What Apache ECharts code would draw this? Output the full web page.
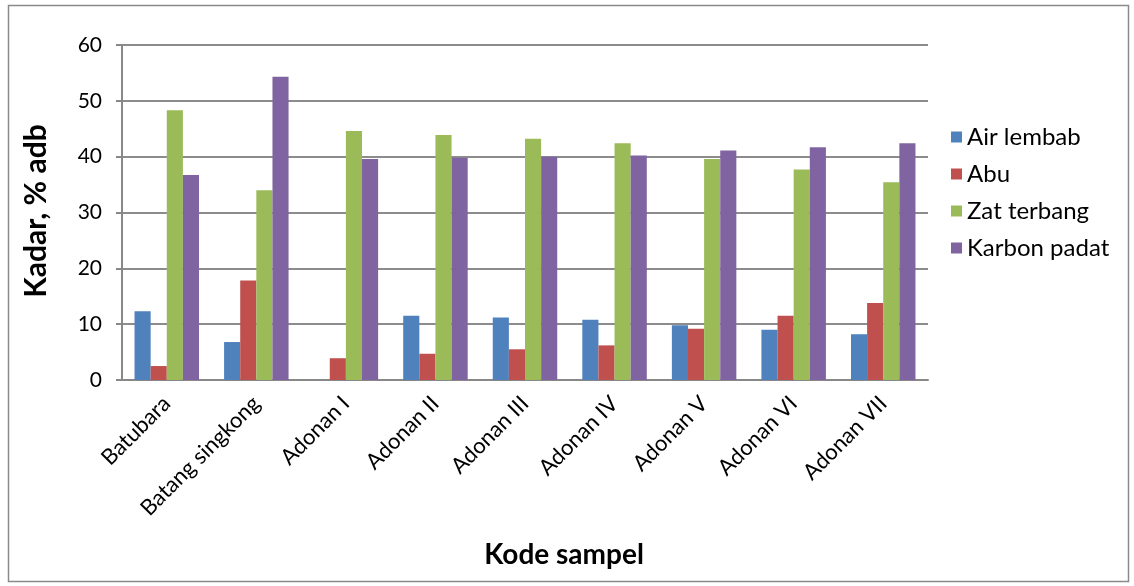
<!DOCTYPE html>
<html>
<head>
<meta charset="utf-8">
<script src="https://cdn.jsdelivr.net/npm/echarts@6/dist/echarts.min.js"></script>
<style>
  html, body { margin: 0; padding: 0; background: #fff; }
  #chart { width: 1134px; height: 586px; }
</style>
</head>
<body>
<div id="chart"></div>
<script>
// Sample codes on the x axis
const categories = ['Batubara', 'Batang singkong', 'Adonan I', 'Adonan II', 'Adonan III',
  'Adonan IV', 'Adonan V', 'Adonan VI', 'Adonan VII'];
// Proximate analysis, % adb
const airLembab   = [12.3, 6.8, 0, 11.5, 11.2, 10.8, 9.8, 9.0, 8.2];
const abu         = [2.5, 17.8, 3.9, 4.7, 5.5, 6.2, 9.2, 11.5, 13.8];
const zatTerbang  = [48.3, 34.0, 44.6, 43.9, 43.2, 42.4, 39.6, 37.7, 35.4];
const karbonPadat = [36.7, 54.3, 39.6, 39.8, 40.0, 40.2, 41.1, 41.7, 42.4];
const seriesNames = ['Air lembab', 'Abu', 'Zat terbang', 'Karbon padat'];
const colors = ['#4F81BD', '#C0504D', '#9BBB59', '#8064A2'];

const font = 'Lato, "Open Sans", sans-serif';
const chart = echarts.init(document.getElementById('chart'));

const seriesData = [airLembab, abu, zatTerbang, karbonPadat];

chart.setOption({
  animation: false,
  color: colors,
  grid: { left: 122, right: 206, top: 45, bottom: 206 },
  legend: {
    orient: 'vertical',
    left: 946,
    top: 120,
    itemWidth: 11,
    itemHeight: 11,
    itemGap: 13,
    icon: 'rect',
    textStyle: { fontFamily: font, fontSize: 24, color: '#000' },
    data: seriesNames
  },
  xAxis: {
    type: 'category',
    data: categories,
    axisTick: { show: false },
    axisLine: { lineStyle: { color: '#888', width: 2 } },
    axisLabel: {
      rotate: 45,
      interval: 0,
      margin: 20,
      fontFamily: font,
      fontSize: 22,
      color: '#000'
    }
  },
  yAxis: {
    type: 'value',
    min: 0,
    max: 60,
    interval: 10,
    axisLine: { show: true, lineStyle: { color: '#888', width: 2 } },
    axisTick: { show: true, length: 6, lineStyle: { color: '#888', width: 2 }, inside: false },
    splitLine: { lineStyle: { color: '#8c8c8c', width: 2 } },
    axisLabel: { fontFamily: font, fontSize: 21, color: '#000', margin: 20 }
  },
  graphic: [
    {
      type: 'rect',
      shape: { x: 8.5, y: 5.5, width: 1120, height: 576 },
      style: { fill: 'none', stroke: '#8a8a8a', lineWidth: 1.5 },
      silent: true
    },
    {
      type: 'text',
      x: 36,
      y: 211,
      rotation: Math.PI / 2,
      style: {
        text: 'Kadar, % adb',
        fontFamily: font,
        fontSize: 30,
        fontWeight: 'bold',
        fill: '#000',
        align: 'center',
        verticalAlign: 'middle'
      }
    },
    {
      type: 'text',
      x: 564,
      y: 555,
      style: {
        text: 'Kode sampel',
        fontFamily: font,
        fontSize: 28,
        fontWeight: 'bold',
        fill: '#000',
        align: 'center',
        verticalAlign: 'middle'
      }
    }
  ],
  series: seriesNames.map((name, i) => ({
    name: name,
    type: 'bar',
    data: seriesData[i],
    barGap: '0%',
    barCategoryGap: '28%',
    itemStyle: { color: colors[i] }
  }))
});
</script>
</body>
</html>
